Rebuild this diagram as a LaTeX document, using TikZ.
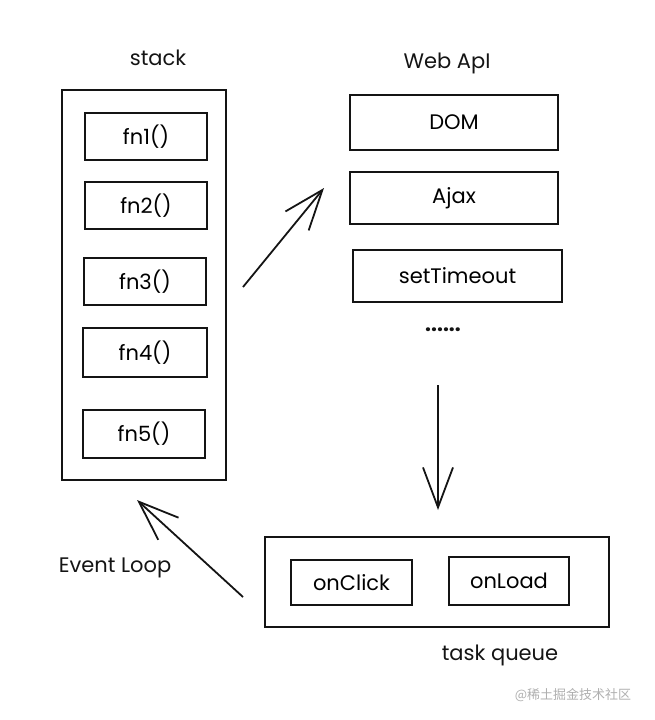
\documentclass[tikz,border=0pt]{standalone}
\usepackage{fontspec}
\setmainfont{Poppins}
\newfontfamily\cjk{Noto Sans CJK SC}
\usetikzlibrary{arrows.meta}
\definecolor{ink}{RGB}{20,20,20}
\definecolor{wm}{RGB}{175,175,175}
\tikzset{
  box/.style={draw=ink, line width=1.8pt, inner sep=0pt, font=\fontsize{21}{24}\selectfont},
  lbl/.style={text=ink, inner sep=0pt, font=\fontsize{21}{24}\selectfont},
  arr/.style={draw=ink, line width=1.8pt, -{Straight Barb[length=40pt,width=30pt,line width=1.8pt]}}
}
\begin{document}
\begin{tikzpicture}[x=1pt,y=-1pt]
\useasboundingbox (0,0) rectangle (654,720);
% stack
\node[lbl] (stacklbl) at (158,58) {stack};
\node[box, minimum width=164pt, minimum height=390pt] (stack) at (144,285) {};
\node[box, minimum width=122pt, minimum height=47pt] (fn1) at (146,136.5) {fn1()};
\node[box, minimum width=122pt, minimum height=47pt] (fn2) at (146,205.5) {fn2()};
\node[box, minimum width=122pt, minimum height=47pt] (fn3) at (145,281.5) {fn3()};
\node[box, minimum width=124pt, minimum height=49pt] (fn4) at (145,352.5) {fn4()};
\node[box, minimum width=122pt, minimum height=48pt] (fn5) at (144,434) {fn5()};
% web api
\node[lbl] (webapi) at (447,63) {Web ApI};
\node[box, minimum width=208pt, minimum height=55pt] (dom) at (454,122.5) {DOM};
\node[box, minimum width=208pt, minimum height=52pt] (ajax) at (454,198) {Ajax};
\node[box, minimum width=209pt, minimum height=52pt] (timeout) at (457.5,276) {setTimeout};
\node[lbl, font=\bfseries\fontsize{21}{24}\selectfont] (dots) at (443,330) {......};
% task queue
\node[box, minimum width=344pt, minimum height=90pt] (queue) at (437,582) {};
\node[box, minimum width=121pt, minimum height=45pt] (click) at (351.5,582.5) {onClick};
\node[box, minimum width=120pt, minimum height=48pt] (load) at (509,581) {onLoad};
\node[lbl] (queuelbl) at (500,655) {task queue};
\node[lbl] (loop) at (115,568) {Event Loop};
\node[text=wm, inner sep=0pt, font=\cjk\fontsize{13}{15}\selectfont] (wmark) at (573,695) {@稀土掘金技术社区};
% connectors
\coordinate (a1s) at (243,287);
\coordinate (a1e) at (324,188);
\coordinate (a2s) at (438,385);
\coordinate (a2e) at (438,510);
\coordinate (a3s) at (243,597);
\coordinate (a3e) at (137,500);
\draw[arr] (a1s) -- (a1e);
\draw[arr] (a2s) -- (a2e);
\draw[arr] (a3s) -- (a3e);
\end{tikzpicture}
\end{document}
